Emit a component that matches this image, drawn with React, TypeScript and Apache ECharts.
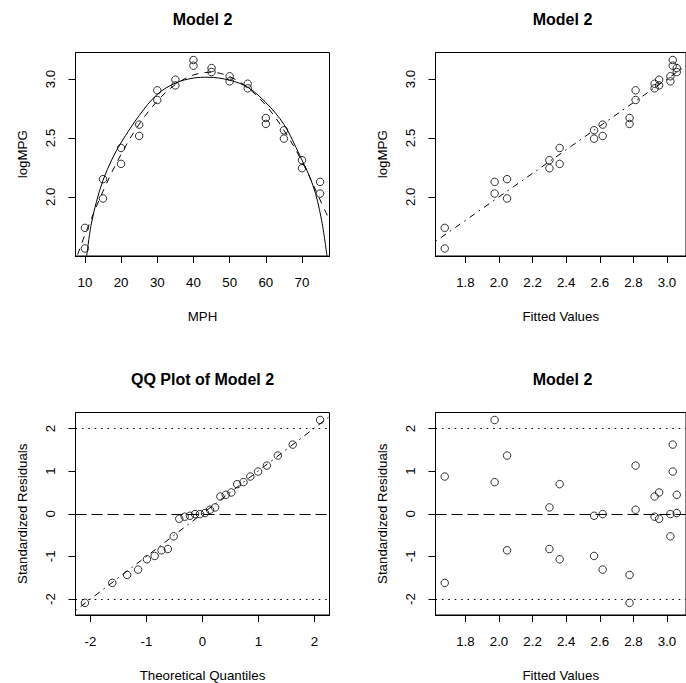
import React, { useEffect, useRef } from "react";
import * as echarts from "echarts";

// ---------- data ----------
const mph = [10, 10, 15, 15, 20, 20, 25, 25, 30, 30, 35, 35, 40, 40, 45, 45, 50, 50, 55, 55, 60, 60, 65, 65, 70, 70, 75, 75];
const logMPG = [1.737, 1.562, 2.15, 1.986, 2.415, 2.28, 2.613, 2.517, 2.904, 2.822, 2.994, 2.946, 3.161, 3.113, 3.093, 3.059, 3.023, 2.98, 2.96, 2.921, 2.669, 2.619, 2.565, 2.494, 2.311, 2.243, 2.127, 2.028];
const fitted = [1.677, 1.677, 2.048, 2.048, 2.361, 2.361, 2.617, 2.617, 2.813, 2.813, 2.953, 2.953, 3.034, 3.034, 3.058, 3.058, 3.02, 3.02, 2.926, 2.926, 2.777, 2.777, 2.566, 2.566, 2.3, 2.3, 1.974, 1.974];
const stdResid = [0.873, -1.622, 1.365, -0.858, 0.694, -1.068, -0.008, -1.31, 1.13, 0.094, 0.499, -0.117, 1.622, 0.99, 0.444, 0.016, -0.008, -0.53, 0.405, -0.07, -1.435, -2.09, -0.047, -0.99, 0.148, -0.827, 2.199, 0.741];

// QQ plot
const theoQ = [-2.1, -1.611, -1.345, -1.15, -0.992, -0.854, -0.732, -0.619, -0.514, -0.415, -0.319, -0.225, -0.134, -0.045, 0.045, 0.134, 0.225, 0.319, 0.415, 0.514, 0.619, 0.732, 0.854, 0.992, 1.15, 1.345, 1.611, 2.1];
const sortedResid = [-2.09, -1.622, -1.435, -1.31, -1.068, -0.99, -0.858, -0.827, -0.53, -0.117, -0.07, -0.047, -0.008, -0.008, 0.016, 0.094, 0.148, 0.405, 0.444, 0.499, 0.694, 0.741, 0.873, 0.99, 1.13, 1.365, 1.622, 2.199];
const qqLineX = [-2.268, 2.268];
const qqLineY = [-2.27, 2.28];

// curves in panel 1 (traced)
const solidX = [10.5, 11.7, 13.2, 15, 17.5, 20, 25, 30, 35, 40, 44, 50, 55, 60, 65, 69.4, 73, 75.3, 76.9];
const solidY = [1.5, 1.76, 1.96, 2.14, 2.32, 2.46, 2.69, 2.87, 2.965, 3.008, 3.015, 2.99, 2.93, 2.8, 2.615, 2.35, 2.1, 1.82, 1.5];
const dashX = [8.0, 10, 15, 20, 25, 30, 35, 40, 45, 50, 55, 60, 65, 70, 75, 77.6];
const dashY = [1.51, 1.677, 2.048, 2.361, 2.617, 2.813, 2.953, 3.034, 3.058, 3.02, 2.926, 2.777, 2.566, 2.3, 1.974, 1.8];

// reference lines
const refZero = 0;
const refBands = [-2, 2];

// ticks
const mphTicks = [10, 20, 30, 40, 50, 60, 70];
const logTicks = [2.0, 2.5, 3.0];
const fitTicks = [1.8, 2.0, 2.2, 2.4, 2.6, 2.8, 3.0];
const qTicks = [-2, -1, 0, 1, 2];
const residTicks = [-2, -1, 0, 1, 2];

// axis ranges
const mphRange = [7.4, 77.6];
const logRange = [1.498, 3.225];
const fitRange = [1.622, 3.113];
const qRange = [-2.268, 2.268];
const residRange = [-2.375, 2.375];

const titles = ["Model 2", "Model 2", "QQ Plot of Model 2", "Model 2"];

const FONT = '"Liberation Sans", Arial, Helvetica, sans-serif';
const FS = 13.3;

const zip = (a: number[], b: number[]) => a.map((v, i) => [v, b[i]]);

function mkX(gi: number, range: number[], ticks: number[], name: string, dec: boolean) {
  return {
    type: "value",
    gridIndex: gi,
    min: range[0],
    max: range[1],
    name,
    nameLocation: "middle",
    nameGap: 54,
    nameTextStyle: { fontFamily: FONT, fontSize: FS, color: "#000" },
    axisLine: { show: true, onZero: false, lineStyle: { color: "#000", width: 1 } },
    axisTick: { show: true, length: 7, inside: false, customValues: ticks, lineStyle: { color: "#000", width: 1 } },
    axisLabel: {
      show: true,
      margin: 20,
      customValues: ticks,
      formatter: (v: number) => (dec ? v.toFixed(1) : String(v)),
      color: "#000",
      fontFamily: FONT,
      fontSize: FS,
    },
    splitLine: { show: false },
  };
}

function mkY(gi: number, range: number[], ticks: number[], name: string, dec: boolean) {
  return {
    type: "value",
    gridIndex: gi,
    min: range[0],
    max: range[1],
    name,
    nameLocation: "middle",
    nameGap: 47,
    nameTextStyle: { fontFamily: FONT, fontSize: FS, color: "#000" },
    axisLine: { show: true, onZero: false, lineStyle: { color: "#000", width: 1 } },
    axisTick: { show: true, length: 7, inside: false, customValues: ticks, lineStyle: { color: "#000", width: 1 } },
    axisLabel: {
      show: true,
      margin: 19,
      rotate: 90,
      customValues: ticks,
      formatter: (v: number) => (dec ? v.toFixed(1) : String(v)),
      color: "#000",
      fontFamily: FONT,
      fontSize: FS,
    },
    splitLine: { show: false },
  };
}

const circleStyle = { color: "rgba(0,0,0,0)", borderColor: "#000", borderWidth: 1 };
const DASH = [6.4, 6.4];
const LONGDASH = [11.2, 4.8];
const DOTTED = [1.6, 4.8];
const DOTDASH = [1.6, 4.8, 6.4, 4.8];

function scatter(xi: number, data: number[][]) {
  return {
    type: "scatter",
    xAxisIndex: xi,
    yAxisIndex: xi,
    data,
    symbol: "circle",
    symbolSize: 7.5,
    itemStyle: circleStyle,
    silent: true,
  };
}

function line(xi: number, data: number[][], type: any, smooth: boolean | number) {
  return {
    type: "line",
    xAxisIndex: xi,
    yAxisIndex: xi,
    data,
    showSymbol: false,
    symbol: "none",
    smooth,
    clip: true,
    lineStyle: { color: "#000", width: 1, type },
    silent: true,
  };
}

function refLines() {
  return {
    silent: true,
    symbol: ["none", "none"],
    label: { show: false },
    lineStyle: { color: "#000", width: 1 },
    data: [
      { yAxis: refZero, lineStyle: { type: LONGDASH, color: "#000", width: 1 } },
      ...refBands.map((b) => ({ yAxis: b, lineStyle: { type: DOTTED, color: "#000", width: 1 } })),
    ],
  };
}

export default function App() {
  const ref = useRef<HTMLDivElement>(null);
  useEffect(() => {
    if (!ref.current) return;
    const chart = echarts.init(ref.current, undefined, { renderer: "svg" });
    const grids = [
      { left: 75.5, top: 52.5, width: 254, height: 203.5 },
      { left: 435.5, top: 52.5, width: 254, height: 203.5 },
      { left: 75.5, top: 412.5, width: 254, height: 203.5 },
      { left: 435.5, top: 412.5, width: 254, height: 203.5 },
    ].map((g) => ({ ...g, show: true, borderColor: "#000", borderWidth: 1, backgroundColor: "transparent", containLabel: false }));

    const titlePos = [
      [202.5, 19.7],
      [562.5, 19.7],
      [202.5, 379.5],
      [562.5, 379.5],
    ];

    const s3 = scatter(2, zip(theoQ, sortedResid)) as any;
    s3.markLine = refLines();
    const s4 = scatter(3, zip(fitted, stdResid)) as any;
    s4.markLine = refLines();

    chart.setOption({
      animation: false,
      backgroundColor: "#fff",
      grid: grids,
      xAxis: [
        mkX(0, mphRange, mphTicks, "MPH", false),
        mkX(1, fitRange, fitTicks, "Fitted Values", true),
        mkX(2, qRange, qTicks, "Theoretical Quantiles", false),
        mkX(3, fitRange, fitTicks, "Fitted Values", true),
      ],
      yAxis: [
        mkY(0, logRange, logTicks, "logMPG", true),
        mkY(1, logRange, logTicks, "logMPG", true),
        mkY(2, residRange, residTicks, "Standardized Residuals", false),
        mkY(3, residRange, residTicks, "Standardized Residuals", false),
      ],
      graphic: titles.map((t, i) => ({
        type: "text",
        x: titlePos[i][0],
        y: titlePos[i][1],
        silent: true,
        style: {
          text: t,
          fill: "#000",
          font: `bold 16px ${FONT}`,
          align: "center",
          verticalAlign: "middle",
          textAlign: "center",
          textVerticalAlign: "middle",
        },
      })),
      series: [
        scatter(0, zip(mph, logMPG)),
        line(0, zip(solidX, solidY), "solid", 0.35),
        line(0, zip(dashX, dashY), DASH, 0.35),
        scatter(1, zip(fitted, logMPG)),
        line(1, [[fitRange[0], fitRange[0]], [fitRange[1], fitRange[1]]], DOTDASH, false),
        s3,
        line(2, zip(qqLineX, qqLineY), DOTDASH, false),
        s4,
      ],
    });
    return () => chart.dispose();
  }, []);
  return (
    <div
      ref={ref}
      style={{ position: "fixed", left: 0, top: 0, width: 686, height: 683, background: "#fff" }}
    />
  );
}
